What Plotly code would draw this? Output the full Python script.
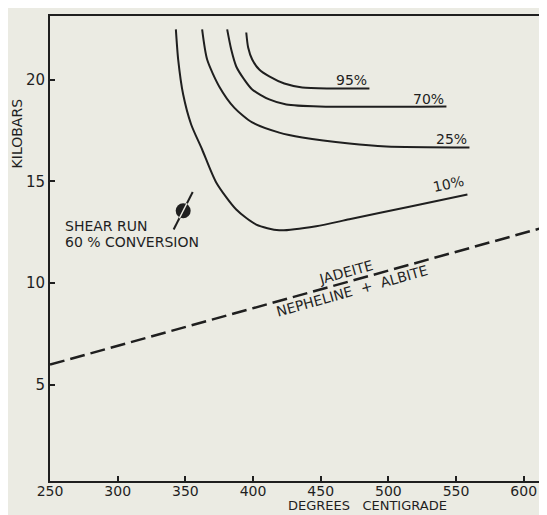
import plotly.graph_objects as go

# conversion curves (temperature degC, pressure kbar)
t_10 = [343, 344.7, 348.4, 354.3, 362.4, 372.8, 387.6, 402.4, 419.4, 446.7, 471.2, 515.5, 558.4]
p_10 = [22.47, 20.99, 19.27, 17.8, 16.57, 14.95, 13.62, 12.88, 12.6, 12.8, 13.14, 13.76, 14.36]

t_25 = [362.4, 366.1, 375, 386.1, 399.4, 419.4, 436.4, 471.2, 498.5, 559.9]
p_25 = [22.47, 20.99, 19.67, 18.63, 17.9, 17.4, 17.16, 16.86, 16.72, 16.67]

t_70 = [380.9, 383.9, 387.6, 393.5, 399.4, 412, 424.6, 449, 542.9]
p_70 = [22.47, 21.48, 20.65, 20.01, 19.52, 19.03, 18.78, 18.68, 18.68]

t_95 = [395, 396.4, 399.4, 404.6, 412, 423.1, 436.4, 456.4, 486]
p_95 = [22.32, 21.58, 20.99, 20.5, 20.16, 19.81, 19.62, 19.57, 19.57]

# jadeite = nepheline + albite boundary
t_phase = [250, 617]
p_phase = [6.0, 12.78]

# shear run point
shear_t = [348.4]
shear_p = [13.56]

x_ticks = [250, 300, 350, 400, 450, 500, 550, 600]
y_ticks = [5, 10, 15, 20]

ink = '#1f1f1f'
bg = '#ebebe3'
fnt = 'DejaVu Sans'

fig = go.Figure()

curves = [(t_10, p_10, '10%'), (t_25, p_25, '25%'), (t_70, p_70, '70%'), (t_95, p_95, '95%')]
for tt, pp, name in curves:
    fig.add_trace(go.Scatter(x=tt, y=pp, mode='lines', name=name,
                             line=dict(color=ink, width=2, shape='spline', smoothing=0.7)))

fig.add_trace(go.Scatter(x=t_phase, y=p_phase, mode='lines',
                         line=dict(color=ink, width=2.5, dash='15px,6px')))

fig.add_trace(go.Scatter(x=shear_t, y=shear_p, mode='markers',
                         marker=dict(symbol='circle', size=15, color=ink)))
fig.add_trace(go.Scatter(x=shear_t, y=shear_p, mode='markers',
                         marker=dict(symbol='line-ns', size=30, angle=27,
                                     line=dict(color=ink, width=2))))
fig.add_trace(go.Scatter(x=shear_t, y=shear_p, mode='markers',
                         marker=dict(symbol='line-ns', size=12, angle=27,
                                     line=dict(color=bg, width=1.5))))

# percentage labels sitting on the ends of the curves
for tt, pp, name in [(t_25, p_25, '25%'), (t_70, p_70, '70%'), (t_95, p_95, '95%')]:
    fig.add_annotation(x=tt[-1], y=pp[-1], text=name, showarrow=False,
                       xanchor='right', yanchor='bottom', yshift=-2,
                       font=dict(family=fnt, size=14, color=ink))
fig.add_annotation(x=t_10[-1], y=p_10[-1], text='10%', showarrow=False,
                   xanchor='right', yanchor='bottom', yshift=-3, textangle=-12,
                   font=dict(family=fnt, size=14, color=ink))

fig.add_annotation(x=469, y=10.55, text='JADEITE', showarrow=False, textangle=-15.6,
                   font=dict(family=fnt, size=14, color=ink))
fig.add_annotation(x=473, y=9.6, text='NEPHELINE  +  ALBITE', showarrow=False, textangle=-15.6,
                   font=dict(family=fnt, size=14, color=ink))

fig.add_annotation(x=shear_t[0], y=shear_p[0], text='SHEAR RUN', showarrow=False,
                   xanchor='left', yanchor='middle', xshift=-120, yshift=-15,
                   font=dict(family=fnt, size=14, color=ink))
fig.add_annotation(x=shear_t[0], y=shear_p[0], text='60 % CONVERSION', showarrow=False,
                   xanchor='left', yanchor='middle', xshift=-120, yshift=-31,
                   font=dict(family=fnt, size=14, color=ink))

fig.add_annotation(xref='paper', yref='paper', x=-0.066, y=0.748, text='KILOBARS',
                   showarrow=False, textangle=-90, xanchor='center', yanchor='middle',
                   font=dict(family=fnt, size=14, color=ink))
fig.add_annotation(xref='paper', yref='paper', x=0.638, y=-0.0731, text='DEGREES   CENTIGRADE',
                   showarrow=False, xanchor='center', yanchor='bottom',
                   font=dict(family=fnt, size=13, color=ink))

fig.update_xaxes(range=[250, 617.2], tickvals=x_ticks, ticks='inside', ticklen=5,
                 tickwidth=2, tickcolor=ink, showline=True, linecolor=ink, linewidth=2,
                 mirror=True, showgrid=False, zeroline=False, ticklabelstandoff=-4,
                 tickfont=dict(family=fnt, size=14, color=ink))
fig.update_yaxes(range=[0.28, 23.13], tickvals=y_ticks, ticks='inside', ticklen=5,
                 tickwidth=2, tickcolor=ink, showline=True, linecolor=ink, linewidth=2,
                 showgrid=False, zeroline=False,
                 tickfont=dict(family=fnt, size=15, color=ink))

# the page body adds an 8px offset, so the figure is 8px smaller
fig.update_layout(width=539, height=507, showlegend=False,
                  margin=dict(l=42, r=0, t=8, b=34),
                  paper_bgcolor=bg, plot_bgcolor=bg)

fig.write_html("out.html")
